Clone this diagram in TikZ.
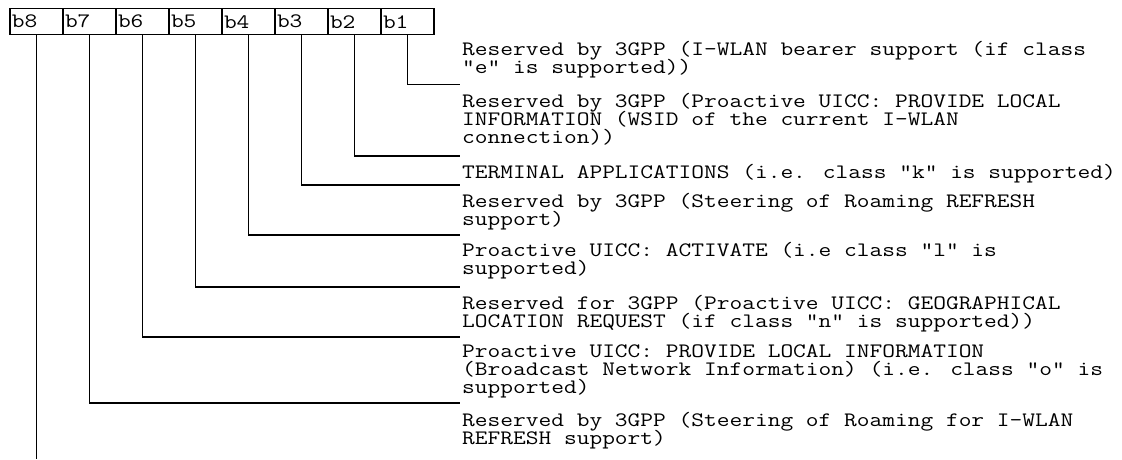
\documentclass[tikz,border=0pt]{standalone}
\usepackage{graphicx}
\newcommand\stretchtxt[1]{\scalebox{1.206}[1]{#1}}
\begin{document}
\begin{tikzpicture}[x=1pt,y=-1pt,
  every node/.style={font=\fontsize{20.5}{18}\selectfont\ttfamily, inner sep=0pt},
  cell/.style={draw, line width=1.4pt, minimum width=53pt, minimum height=26pt,
    text width=49pt, align=left, anchor=north west},
  row/.style={anchor=base west, text height=12pt, text depth=3pt},
  wire/.style={line width=1.5pt}]
\useasboundingbox (0,0) rectangle (1122,459);
% bit cells
\node[cell] (c8) at (9.3,8) {\stretchtxt{b8}};
\node[cell] (c7) at (62.3,8) {\stretchtxt{b7}};
\node[cell] (c6) at (115.3,8) {\stretchtxt{b6}};
\node[cell] (c5) at (168.3,8) {\stretchtxt{b5}};
\node[cell] (c4) at (221.3,8) {\stretchtxt{b4}};
\node[cell] (c3) at (274.3,8) {\stretchtxt{b3}};
\node[cell] (c2) at (327.3,8) {\stretchtxt{b2}};
\node[cell] (c1) at (380.3,8) {\stretchtxt{b1}};
% line ends
\coordinate (k1) at (460,84.5);
\coordinate (k2) at (460,156);
\coordinate (k3) at (460,185);
\coordinate (k4) at (460,235);
\coordinate (k5) at (460,287);
\coordinate (k6) at (460,337);
\coordinate (k7) at (460,403);
\coordinate (k8) at (c8.south |- 0,459);
% texts
\node[row] (t1a) at (462,55) {\stretchtxt{Reserved by 3GPP (I-WLAN bearer support (if class}};
\node[row] (t1b) at (462,73) {\stretchtxt{"e" is supported))}};
\node[row] (t2a) at (462,107) {\stretchtxt{Reserved by 3GPP (Proactive UICC: PROVIDE LOCAL}};
\node[row] (t2b) at (462,125) {\stretchtxt{INFORMATION (WSID of the current I-WLAN}};
\node[row] (t2c) at (462,143) {\stretchtxt{connection))}};
\node[row] (t3) at (462,178) {\stretchtxt{TERMINAL APPLICATIONS (i.e. class "k" is supported)}};
\node[row] (t4a) at (462,207) {\stretchtxt{Reserved by 3GPP (Steering of Roaming REFRESH}};
\node[row] (t4b) at (462,225) {\stretchtxt{support)}};
\node[row] (t5a) at (462,256) {\stretchtxt{Proactive UICC: ACTIVATE (i.e class "l" is}};
\node[row] (t5b) at (462,274) {\stretchtxt{supported)}};
\node[row] (t6a) at (462,309) {\stretchtxt{Reserved for 3GPP (Proactive UICC: GEOGRAPHICAL}};
\node[row] (t6b) at (462,327) {\stretchtxt{LOCATION REQUEST (if class "n" is supported))}};
\node[row] (t7a) at (462,357) {\stretchtxt{Proactive UICC: PROVIDE LOCAL INFORMATION}};
\node[row] (t7b) at (462,375) {\stretchtxt{(Broadcast Network Information) (i.e. class "o" is}};
\node[row] (t7c) at (462,393) {\stretchtxt{supported)}};
\node[row] (t8a) at (462,426) {\stretchtxt{Reserved by 3GPP (Steering of Roaming for I-WLAN}};
\node[row] (t8b) at (462,444) {\stretchtxt{REFRESH support)}};
% connectors
\draw[wire] (c1.south) |- (k1);
\draw[wire] (c2.south) |- (k2);
\draw[wire] (c3.south) |- (k3);
\draw[wire] (c4.south) |- (k4);
\draw[wire] (c5.south) |- (k5);
\draw[wire] (c6.south) |- (k6);
\draw[wire] (c7.south) |- (k7);
\draw[wire] (c8.south) -- (k8);
\end{tikzpicture}
\end{document}
